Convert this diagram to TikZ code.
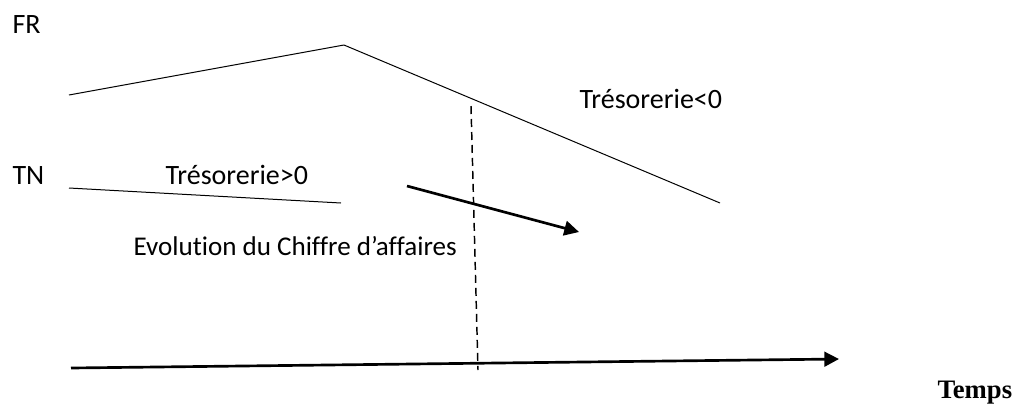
\documentclass[tikz,border=0pt]{standalone}
\usepackage{fontspec}
\setmainfont[Ligatures=CommonOff]{Carlito}
\newfontfamily\timesbf{Liberation Serif}
\usetikzlibrary{arrows.meta}

\tikzset{every picture/.style={line width=0.75pt}}
\tikzset{
  lbl/.style={anchor=base west,inner sep=0pt,font=\fontsize{21}{25}\selectfont},
  thickarrow/.style={line width=2pt,-{Triangle[length=11pt,width=11pt]}}
}

\begin{document}
\begin{tikzpicture}[x=0.75pt,y=0.75pt,yscale=-1,xscale=1]
\useasboundingbox (0,0) rectangle (1024,412);

%Points of the curves
\coordinate (fr0) at (69,95);
\coordinate (frtop) at (344,45);
\coordinate (fr1) at (720,203);
\coordinate (tn0) at (69,188);
\coordinate (tn1) at (341,203);
\coordinate (ca0) at (407,186);
\coordinate (ca1) at (579,232);
\coordinate (t0) at (71,368);
\coordinate (t1) at (839,359);
\coordinate (cut0) at (471,106);
\coordinate (cut1) at (478,370);

%Straight Lines
\draw (fr0) -- (frtop) ;
%Straight Lines
\draw (frtop) -- (fr1) ;
%Straight Lines
\draw (tn0) -- (tn1) ;
%Straight Lines
\draw [line width=1.1pt,dash pattern={on 6pt off 3.75pt}] (cut0) -- (cut1) ;
%Straight Lines
\draw [thickarrow] (ca0) -- (ca1) ;
%Straight Lines
\draw [thickarrow] (t0) -- (t1) ;

% Text Node
\node [lbl] (fr) at (12,33) {FR};
% Text Node
\node [lbl] (tn) at (12,184) {TN};
% Text Node
\node [lbl] (tpos) at (165,184) {Trésorerie>0};
% Text Node
\node [lbl] (tneg) at (579,108) {Trésorerie<0};
% Text Node
\node [lbl,font=\fontsize{20.3}{24}\selectfont] (evol) at (133,255) {Evolution du Chiffre d’affaires};
% Text Node
\node [lbl,font=\fontsize{20}{24}\timesbf\bfseries] (temps) at (937,398) {Temps};
\end{tikzpicture}
\end{document}
